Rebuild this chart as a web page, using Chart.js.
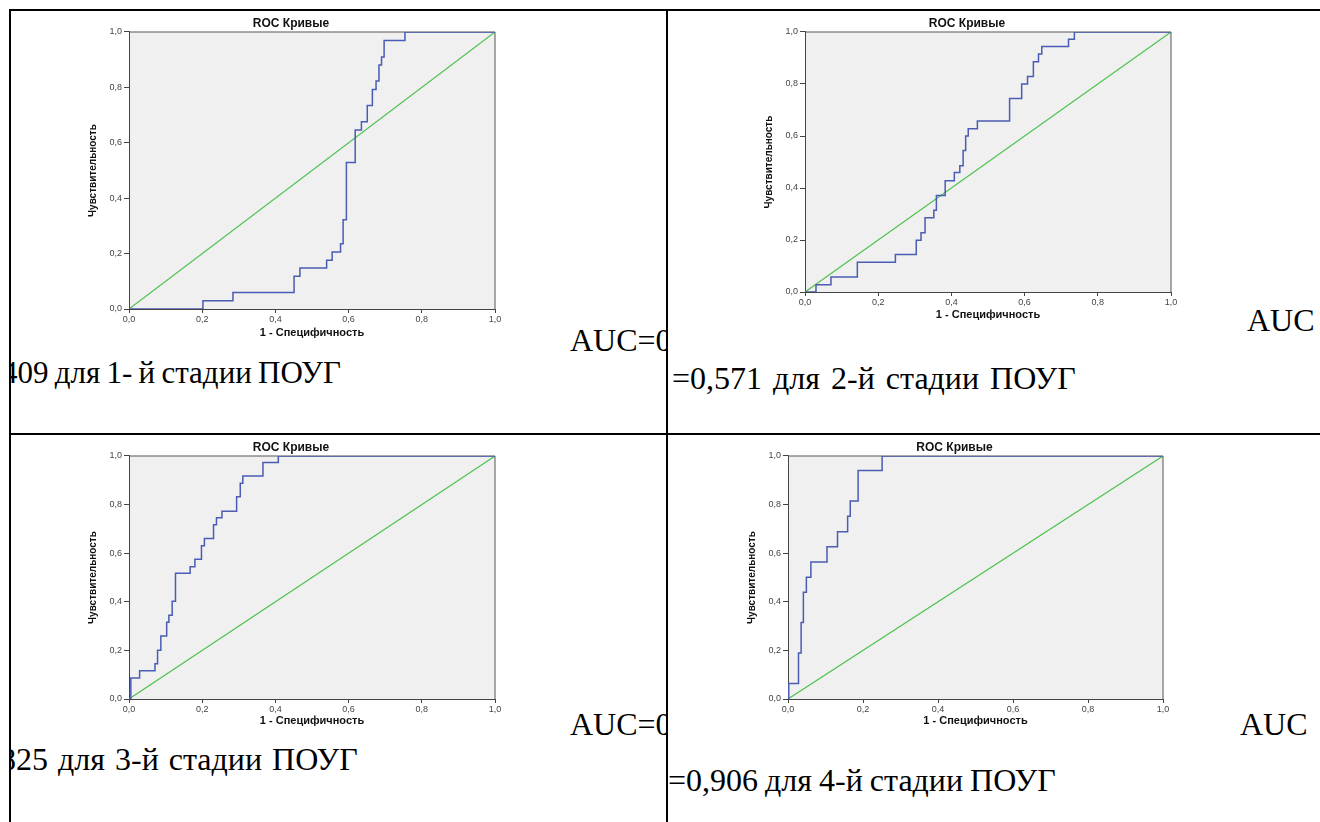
<!DOCTYPE html>
<html>
<head>
<meta charset="utf-8">
<script src="https://cdn.jsdelivr.net/npm/chart.js@4.4.1/dist/chart.umd.min.js"></script>
<style>
    html, body { margin: 0; padding: 0; background: #fff; }
    body { width: 1320px; height: 822px; position: relative; overflow: hidden; }
    .rule { position: absolute; background: #000; }
    .cell { position: absolute; overflow: hidden; }
    .txt {
        position: absolute;
        font-family: "Liberation Serif", "Times New Roman", serif;
        font-size: 32px;
        line-height: 32px;
        white-space: nowrap;
        color: #000;
    }
    canvas { position: absolute; }
</style>
</head>
<body>

<div class="rule" style="left:9px;top:9px;width:1311px;height:2px"></div>
<div class="rule" style="left:9px;top:433px;width:1311px;height:2px"></div>
<div class="rule" style="left:9px;top:9px;width:2px;height:813px"></div>
<div class="rule" style="left:666px;top:9px;width:2px;height:813px"></div>

<div class="cell" style="left:11px;top:11px;width:655px;height:422px">
    <span class="txt" style="left:559px;top:313px">AUC=0</span>
    <span class="txt" style="left:-9px;top:346px;font-size:31px;word-spacing:-1.5px">409 для 1- й стадии ПОУГ</span>
</div>
<div class="cell" style="left:668px;top:11px;width:652px;height:422px">
    <span class="txt" style="left:579px;top:293px">AUC</span>
    <span class="txt" style="left:4px;top:351px;word-spacing:3px">=0,571 для 2-й стадии ПОУГ</span>
</div>
<div class="cell" style="left:11px;top:435px;width:655px;height:387px">
    <span class="txt" style="left:559px;top:273px">AUC=0</span>
    <span class="txt" style="left:-11px;top:308px;word-spacing:2px">825 для 3-й стадии ПОУГ</span>
</div>
<div class="cell" style="left:668px;top:435px;width:652px;height:387px">
    <span class="txt" style="left:572px;top:273px">AUC</span>
    <span class="txt" style="left:0px;top:329px;word-spacing:-1px">=0,906 для 4-й стадии ПОУГ</span>
</div>

<script>
const tickLabels = ['0,0', '0,2', '0,4', '0,6', '0,8', '1,0'];
const chanceX = [0, 1];
const chanceY = [0, 1];

// stage 1
const roc1Fpr = [0, 0.202, 0.284, 0.451, 0.467, 0.540, 0.555, 0.578, 0.585, 0.594, 0.618, 0.635, 0.651, 0.665, 0.675, 0.683, 0.690, 0.697, 0.754, 1];
const roc1Tpr = [0, 0.030, 0.060, 0.118, 0.148, 0.176, 0.206, 0.236, 0.322, 0.529, 0.646, 0.676, 0.735, 0.792, 0.823, 0.881, 0.910, 0.969, 1.0, 1.0];

// stage 2
const roc2Fpr = [0, 0.030, 0.071, 0.143, 0.247, 0.304, 0.317, 0.328, 0.352, 0.359, 0.383, 0.408, 0.423, 0.432, 0.439, 0.446, 0.471, 0.559, 0.592, 0.608, 0.624, 0.638, 0.647, 0.720, 0.736, 1];
const roc2Tpr = [0, 0.028, 0.058, 0.114, 0.144, 0.199, 0.228, 0.286, 0.314, 0.371, 0.428, 0.460, 0.486, 0.544, 0.600, 0.628, 0.658, 0.744, 0.800, 0.829, 0.886, 0.915, 0.944, 0.972, 1.0, 1.0];

// stage 3
const roc3Fpr = [0, 0.005, 0.029, 0.071, 0.078, 0.087, 0.103, 0.109, 0.118, 0.127, 0.167, 0.180, 0.198, 0.206, 0.231, 0.239, 0.254, 0.294, 0.304, 0.311, 0.366, 0.408, 1];
const roc3Tpr = [0, 0.086, 0.116, 0.145, 0.201, 0.259, 0.316, 0.345, 0.402, 0.517, 0.544, 0.575, 0.631, 0.661, 0.717, 0.746, 0.773, 0.832, 0.888, 0.918, 0.973, 1.0, 1.0];

// stage 4
const roc4Fpr = [0, 0.002, 0.028, 0.035, 0.041, 0.049, 0.061, 0.104, 0.132, 0.159, 0.166, 0.187, 0.251, 1];
const roc4Tpr = [0, 0.064, 0.189, 0.315, 0.439, 0.501, 0.564, 0.627, 0.688, 0.752, 0.815, 0.940, 1.0, 1.0];

const chartTitle = 'ROC Кривые';
const xTitle = '1 - Специфичность';
const yTitle = 'Чувствительность';
const sans = '"Liberation Sans", Arial, sans-serif';

// plot-area frame of each chart on the page (left, top, right, bottom, x axis height)
const frames = [
    {L: 129, T: 32, R: 495, B: 309, xh: 31},
    {L: 805, T: 32, R: 1171, B: 292, xh: 30},
    {L: 129, T: 456, R: 495, B: 699, xh: 29},
    {L: 788, T: 456, R: 1163, B: 699, xh: 29}
];

const plotFrame = {
    id: 'plotFrame',
    beforeDraw(chart) {
        const {ctx, chartArea: a} = chart;
        ctx.save();
        ctx.fillStyle = '#f0f0f0';
        ctx.fillRect(a.left, a.top, a.right - a.left, a.bottom - a.top);
        ctx.restore();
    },
    beforeDatasetsDraw(chart) {
        const {ctx, chartArea: a} = chart;
        ctx.save();
        ctx.strokeStyle = '#555';
        ctx.lineWidth = 1;
        ctx.beginPath();
        ctx.moveTo(a.left, a.top);
        ctx.lineTo(a.right, a.top);
        ctx.lineTo(a.right, a.bottom);
        ctx.stroke();
        ctx.restore();
    }
};

function drawRoc(frame, fpr, tpr) {
    const yAxisW = 42, topH = 16, padR = 12;
    const canvas = document.createElement('canvas');
    const w = frame.R - frame.L + yAxisW + padR;
    const h = frame.B - frame.T + topH + frame.xh;
    canvas.width = w;
    canvas.height = h;
    canvas.style.width = w + 'px';
    canvas.style.height = h + 'px';
    canvas.style.left = (frame.L - yAxisW) + 'px';
    canvas.style.top = (frame.T - topH) + 'px';
    document.body.appendChild(canvas);

    const tickFont = {family: sans, size: 9};

    new Chart(canvas, {
        type: 'line',
        data: {
            datasets: [
                {
                    data: fpr.map((x, i) => ({x: x, y: tpr[i]})),
                    borderColor: '#4a5cb3',
                    borderWidth: 1.5,
                    stepped: 'before',
                    pointRadius: 0,
                    fill: false
                },
                {
                    data: chanceX.map((x, i) => ({x: x, y: chanceY[i]})),
                    borderColor: '#4fc24f',
                    borderWidth: 1.2,
                    pointRadius: 0,
                    fill: false
                }
            ]
        },
        options: {
            responsive: false,
            animation: false,
            devicePixelRatio: 1,
            events: [],
            layout: {padding: {left: 0, right: padR, top: 0, bottom: 0}},
            scales: {
                x: {
                    type: 'linear',
                    min: 0,
                    max: 1,
                    ticks: {
                        stepSize: 0.2,
                        padding: 1,
                        color: '#444',
                        font: tickFont,
                        maxRotation: 0,
                        autoSkip: false,
                        callback: (v, i) => tickLabels[i]
                    },
                    grid: {display: true, drawOnChartArea: false, drawTicks: true, tickLength: 4, color: '#444'},
                    border: {display: true, color: '#444', width: 1},
                    title: {display: true, text: xTitle, color: '#111', padding: 0, font: {family: sans, size: 11, weight: 'bold'}},
                    afterFit: s => { s.height = frame.xh; }
                },
                y: {
                    type: 'linear',
                    min: 0,
                    max: 1,
                    ticks: {
                        stepSize: 0.2,
                        padding: 2,
                        color: '#444',
                        font: tickFont,
                        callback: (v, i) => tickLabels[i]
                    },
                    grid: {display: true, drawOnChartArea: false, drawTicks: true, tickLength: 5, color: '#444'},
                    border: {display: true, color: '#444', width: 1},
                    title: {display: true, text: yTitle, color: '#111', padding: 0, font: {family: sans, size: 10, weight: 'bold'}},
                    afterFit: s => { s.width = yAxisW; }
                }
            },
            plugins: {
                legend: {display: false},
                tooltip: {enabled: false},
                title: {
                    display: true,
                    text: chartTitle,
                    color: '#111',
                    padding: {top: 0, bottom: 1.6},
                    font: {family: sans, size: 12, weight: 'bold'}
                }
            }
        },
        plugins: [plotFrame]
    });
}

drawRoc(frames[0], roc1Fpr, roc1Tpr);
drawRoc(frames[1], roc2Fpr, roc2Tpr);
drawRoc(frames[2], roc3Fpr, roc3Tpr);
drawRoc(frames[3], roc4Fpr, roc4Tpr);
</script>
</body>
</html>
